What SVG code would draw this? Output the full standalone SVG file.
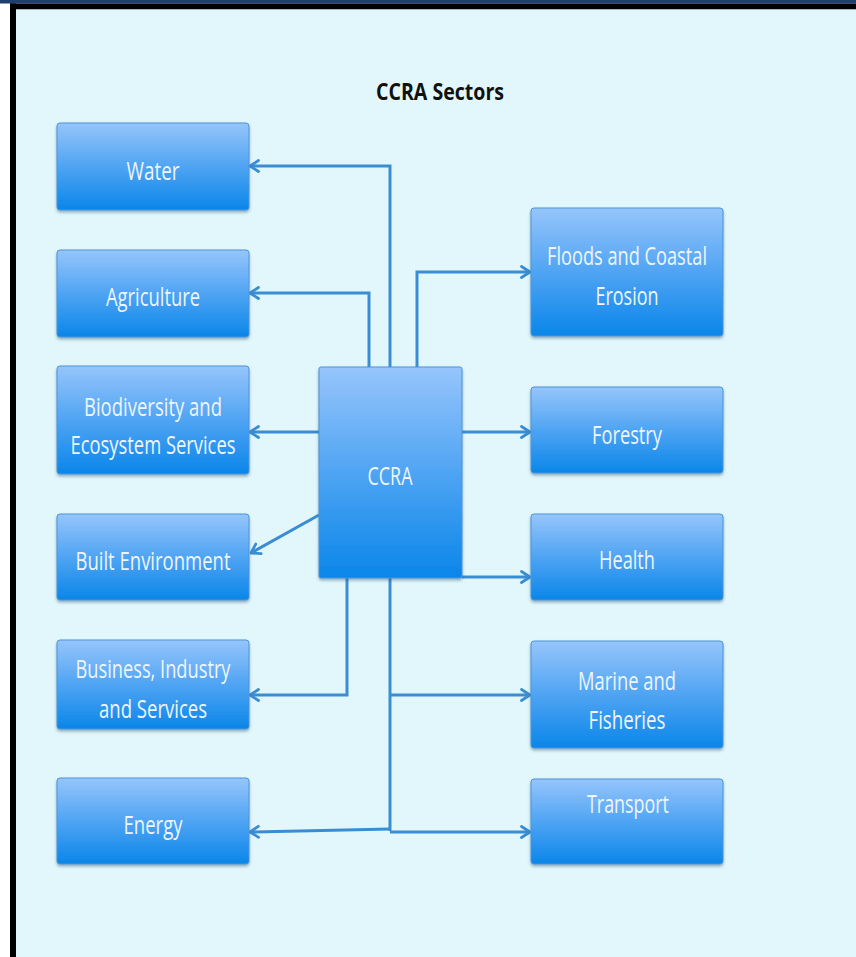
<svg xmlns="http://www.w3.org/2000/svg" width="856" height="957" viewBox="0 0 856 957">
  <defs>
    <linearGradient id="boxGrad" x1="0" y1="0" x2="0" y2="1">
      <stop offset="0" stop-color="#96c5fb"/>
      <stop offset="0.5" stop-color="#4fa4f3"/>
      <stop offset="1" stop-color="#0a86e9"/>
    </linearGradient>
    <filter id="shadow" x="-10%" y="-10%" width="120%" height="130%">
      <feDropShadow dx="0" dy="2" stdDeviation="1.5" flood-color="#2a4d6e" flood-opacity="0.45"/>
    </filter>
    <marker id="arrow" viewBox="0 0 12 14" refX="10.5" refY="7" markerWidth="12" markerHeight="14" markerUnits="userSpaceOnUse" orient="auto">
      <path d="M2,1.5 L10.5,7 L2,12.5" fill="none" stroke="#3a8dd2" stroke-width="2.8" stroke-linecap="round" stroke-linejoin="round"/>
    </marker>
  </defs>
  <style>
    .box { fill: url(#boxGrad); stroke: #4a95d8; stroke-width: 1; filter: url(#shadow); }
    .lbl { font-family: "Open Sans", "Liberation Sans", sans-serif; font-size: 26px; fill: #eef5fd; text-anchor: middle; }
    .title { font-family: "Open Sans", "Liberation Sans", sans-serif; font-size: 24px; font-weight: bold; fill: #111111; text-anchor: middle; }
    .conn { fill: none; stroke: #3a8dd2; stroke-width: 3; stroke-linejoin: miter; }
    .arr { marker-end: url(#arrow); }
  </style>

  <!-- frame / backdrop -->
  <rect x="0" y="0" width="856" height="957" fill="#ffffff"/>
  <rect x="16" y="9" width="840" height="948" fill="#e2f7fc"/>
  <rect x="0" y="0" width="856" height="3.5" fill="#1f3f70"/>
  <rect x="10" y="3.5" width="846" height="5.5" fill="#000000"/>
  <rect x="10" y="3.5" width="6" height="953.5" fill="#000000"/>
  <rect x="16" y="9" width="840" height="1" fill="#9fb4bc"/>

  <text class="title" x="440" y="100" textLength="128" lengthAdjust="spacingAndGlyphs">CCRA Sectors</text>

  <!-- connectors -->
  <g id="connectors">
    <path class="conn arr" d="M390,367 V166 H250"/>
    <path class="conn arr" d="M369,367 V293 H250"/>
    <path class="conn arr" d="M417,367 V272 H530"/>
    <path class="conn arr" d="M319,432 H250"/>
    <path class="conn arr" d="M462,432 H530"/>
    <path class="conn arr" d="M319,515 L251,553"/>
    <path class="conn arr" d="M462,577 H530"/>
    <path class="conn arr" d="M347,578 V695 H250"/>
    <path class="conn" d="M390,578 V831"/>
    <path class="conn arr" d="M390,695 H530"/>
    <path class="conn arr" d="M390,829 L250,832"/>
    <path class="conn arr" d="M390,832 H530"/>
  </g>

  <!-- left column -->
  <g id="water">
    <rect class="box" x="57" y="123" width="192" height="87" rx="3"/>
    <text class="lbl" x="153" y="180" textLength="53" lengthAdjust="spacingAndGlyphs">Water</text>
  </g>
  <g id="agriculture">
    <rect class="box" x="57" y="250" width="192" height="87" rx="3"/>
    <text class="lbl" x="153" y="306" textLength="94" lengthAdjust="spacingAndGlyphs">Agriculture</text>
  </g>
  <g id="biodiversity">
    <rect class="box" x="57" y="366" width="192" height="108" rx="3"/>
    <text class="lbl" x="153" y="416" textLength="138" lengthAdjust="spacingAndGlyphs">Biodiversity and</text>
    <text class="lbl" x="153" y="454" textLength="165" lengthAdjust="spacingAndGlyphs">Ecosystem Services</text>
  </g>
  <g id="built-environment">
    <rect class="box" x="57" y="514" width="192" height="86" rx="3"/>
    <text class="lbl" x="153" y="570" textLength="155" lengthAdjust="spacingAndGlyphs">Built Environment</text>
  </g>
  <g id="business">
    <rect class="box" x="57" y="640" width="192" height="89" rx="3"/>
    <text class="lbl" x="153" y="678" textLength="155" lengthAdjust="spacingAndGlyphs">Business, Industry</text>
    <text class="lbl" x="153" y="718" textLength="108" lengthAdjust="spacingAndGlyphs">and Services</text>
  </g>
  <g id="energy">
    <rect class="box" x="57" y="778" width="192" height="86" rx="3"/>
    <text class="lbl" x="153" y="834" textLength="59" lengthAdjust="spacingAndGlyphs">Energy</text>
  </g>

  <!-- centre -->
  <g id="ccra">
    <rect class="box" x="319" y="367" width="143" height="211" rx="2"/>
    <text class="lbl" x="390" y="485" textLength="45" lengthAdjust="spacingAndGlyphs">CCRA</text>
  </g>

  <!-- right column -->
  <g id="floods">
    <rect class="box" x="531" y="208" width="192" height="128" rx="3"/>
    <text class="lbl" x="627" y="265" textLength="160" lengthAdjust="spacingAndGlyphs">Floods and Coastal</text>
    <text class="lbl" x="627" y="305" textLength="63" lengthAdjust="spacingAndGlyphs">Erosion</text>
  </g>
  <g id="forestry">
    <rect class="box" x="531" y="387" width="192" height="86" rx="3"/>
    <text class="lbl" x="627" y="444" textLength="70" lengthAdjust="spacingAndGlyphs">Forestry</text>
  </g>
  <g id="health">
    <rect class="box" x="531" y="514" width="192" height="86" rx="3"/>
    <text class="lbl" x="627" y="569" textLength="56" lengthAdjust="spacingAndGlyphs">Health</text>
  </g>
  <g id="marine">
    <rect class="box" x="531" y="641" width="192" height="107" rx="3"/>
    <text class="lbl" x="627" y="690" textLength="98" lengthAdjust="spacingAndGlyphs">Marine and</text>
    <text class="lbl" x="627" y="729" textLength="77" lengthAdjust="spacingAndGlyphs">Fisheries</text>
  </g>
  <g id="transport">
    <rect class="box" x="531" y="779" width="192" height="85" rx="3"/>
    <text class="lbl" x="628" y="813" textLength="82" lengthAdjust="spacingAndGlyphs">Transport</text>
  </g>
</svg>
